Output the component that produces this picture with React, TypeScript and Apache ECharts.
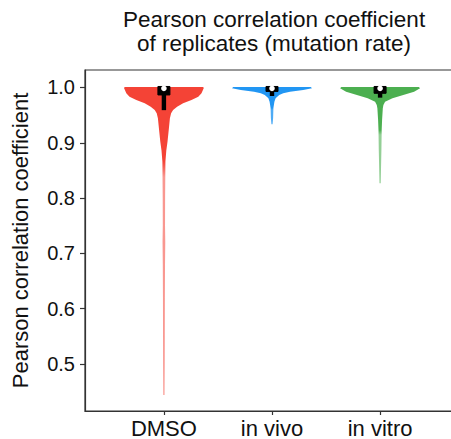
import React, { useEffect, useRef } from "react";
import * as echarts from "echarts";

const categories = ["DMSO", "in vivo", "in vitro"];
const colors = ["#F44336", "#2196F3", "#4CAF50"];
const tailColors = ["rgba(244,67,54,0.55)", "rgba(33,150,243,0.8)", "rgba(76,175,80,0.6)"];
const yTicks = [0.5, 0.6, 0.7, 0.8, 0.9, 1.0];

// violin profiles: value levels and relative half-widths (1 = widest)
const dmsoY = [1.001, 0.9995, 0.9895, 0.9834, 0.9774, 0.9714, 0.9653, 0.9593, 0.9533, 0.9443, 0.9262, 0.902, 0.886, 0.866, 0.8, 0.75, 0.72, 0.68, 0.62, 0.55, 0.5, 0.444];
const dmsoW = [0.97, 1.0, 0.94, 0.86, 0.69, 0.48, 0.33, 0.23, 0.18, 0.15, 0.125, 0.09, 0.06, 0.038, 0.03, 0.028, 0.034, 0.028, 0.024, 0.022, 0.02, 0.015];
const vivoY = [1.001, 0.9986, 0.9955, 0.9924, 0.9895, 0.9864, 0.9805, 0.9743, 0.963, 0.945, 0.9335];
const vivoW = [0.97, 1.0, 0.78, 0.45, 0.28, 0.18, 0.09, 0.06, 0.035, 0.028, 0.014];
const vitroY = [1.001, 0.9986, 0.9924, 0.9864, 0.9805, 0.9743, 0.9684, 0.9624, 0.941, 0.923, 0.887, 0.827];
const vitroW = [0.97, 1.0, 0.85, 0.58, 0.31, 0.125, 0.083, 0.068, 0.05, 0.04, 0.033, 0.015];

// box plot statistics
const lowerWhisker = [0.959, 0.9846, 0.9816];
const q1 = [0.9865, 0.9928, 0.9895];
const median = [0.9985, 0.9985, 0.9985];
const q3 = [1.0, 1.0, 1.0];

const profiles = [
  { y: dmsoY, w: dmsoW },
  { y: vivoY, w: vivoW },
  { y: vitroY, w: vitroW },
];

const FONT = "'Liberation Sans', Arial, Helvetica, sans-serif";
const VIOLIN_HALF_PX = 40;
const BOX_HALF_PX = 6;
const WHISKER_HALF_PX = 2.2;
const MEDIAN_R = 2.8;

export default function App() {
  const ref = useRef<HTMLDivElement>(null);
  useEffect(() => {
    if (!ref.current) return;
    const chart = echarts.init(ref.current, null, { renderer: "svg" });
    const option: any = {
      animation: false,
      backgroundColor: "#ffffff",
      grid: {
        left: 85,
        top: 70,
        right: -8,
        bottom: 28,
        show: true,
        borderColor: "#333",
        borderWidth: 1.2,
        outerBoundsMode: "none",
      },
      graphic: [
        {
          type: "text",
          x: 274,
          y: 8,
          style: {
            text: "Pearson correlation coefficient",
            font: `22.5px ${FONT}`,
            fill: "#111",
            textAlign: "center",
            textVerticalAlign: "top",
          },
        },
        {
          type: "text",
          x: 274,
          y: 32,
          style: {
            text: "of replicates (mutation rate)",
            font: `22.5px ${FONT}`,
            fill: "#111",
            textAlign: "center",
            textVerticalAlign: "top",
          },
        },
      ],
      xAxis: {
        type: "value",
        min: 0.27,
        max: 3.73,
        splitLine: { show: false },
        axisLine: { lineStyle: { color: "#333", width: 1.2 } },
        axisTick: { customValues: [1, 2, 3], length: 4, lineStyle: { color: "#333", width: 1.2 } },
        axisLabel: {
          customValues: [1, 2, 3],
          formatter: (v: number) => categories[Math.round(v) - 1],
          fontFamily: FONT,
          fontSize: 22,
          color: "#111",
          margin: 6,
        },
      },
      yAxis: {
        type: "value",
        min: 0.415,
        max: 1.0316,
        name: "Pearson correlation coefficient",
        nameLocation: "middle",
        nameGap: 54,
        nameTextStyle: { fontFamily: FONT, fontSize: 22, color: "#111" },
        splitLine: { show: false },
        axisLine: { lineStyle: { color: "#333", width: 1.2 } },
        axisTick: { customValues: yTicks, length: 5, lineStyle: { color: "#333", width: 1.2 } },
        axisLabel: {
          customValues: yTicks,
          formatter: (v: number) => v.toFixed(1),
          fontFamily: FONT,
          fontSize: 20,
          color: "#111",
          margin: 10,
        },
      },
      series: [
        {
          type: "custom",
          coordinateSystem: "cartesian2d",
          clip: false,
          data: categories.map((_, i) => [i + 1, median[i]]),
          encode: { x: 0, y: 1 },
          renderItem: (params: any, api: any) => {
            const i = params.dataIndex;
            const cx = i + 1;
            const prof = profiles[i];
            const center = api.coord([cx, 1])[0];
            const right: number[][] = [];
            const left: number[][] = [];
            let tailPy = -1;
            for (let k = 0; k < prof.y.length; k++) {
              const py = api.coord([cx, prof.y[k]])[1];
              const hw = prof.w[k] * VIOLIN_HALF_PX;
              if (tailPy < 0 && prof.w[k] <= 0.04) tailPy = py;
              right.push([center + hw, py]);
              left.unshift([center - hw, py]);
            }
            const topPy = right[0][1];
            const botPy = right[right.length - 1][1];
            const f = Math.min(0.95, Math.max(0, (tailPy - topPy) / (botPy - topPy)));
            const fill = new echarts.graphic.LinearGradient(0, 0, 0, 1, [
              { offset: 0, color: colors[i] },
              { offset: f, color: colors[i] },
              { offset: Math.min(1, f + 0.05), color: tailColors[i] },
              { offset: 1, color: tailColors[i] },
            ]);
            const yq3 = api.coord([cx, q3[i]])[1];
            const yq1 = api.coord([cx, q1[i]])[1];
            const ylw = api.coord([cx, lowerWhisker[i]])[1];
            const ymed = api.coord([cx, median[i]])[1];
            return {
              type: "group",
              children: [
                {
                  type: "polygon",
                  shape: { points: right.concat(left), smooth: 0 },
                  style: { fill, stroke: null },
                },
                {
                  type: "rect",
                  shape: { x: center - WHISKER_HALF_PX, y: yq3, width: WHISKER_HALF_PX * 2, height: ylw - yq3 },
                  style: { fill: "#000" },
                },
                {
                  type: "rect",
                  shape: { x: center - BOX_HALF_PX, y: yq3 - 1, width: BOX_HALF_PX * 2, height: yq1 - yq3 + 1 },
                  style: { fill: "#000", stroke: "#000", lineWidth: 1 },
                },
                {
                  type: "circle",
                  shape: { cx: center, cy: ymed, r: MEDIAN_R },
                  style: { fill: "#fff" },
                },
              ],
            };
          },
        },
      ],
    };
    chart.setOption(option);
    return () => chart.dispose();
  }, []);
  return (
    <div
      ref={ref}
      style={{ position: "absolute", left: 0, top: 0, width: 451, height: 439 }}
    />
  );
}
